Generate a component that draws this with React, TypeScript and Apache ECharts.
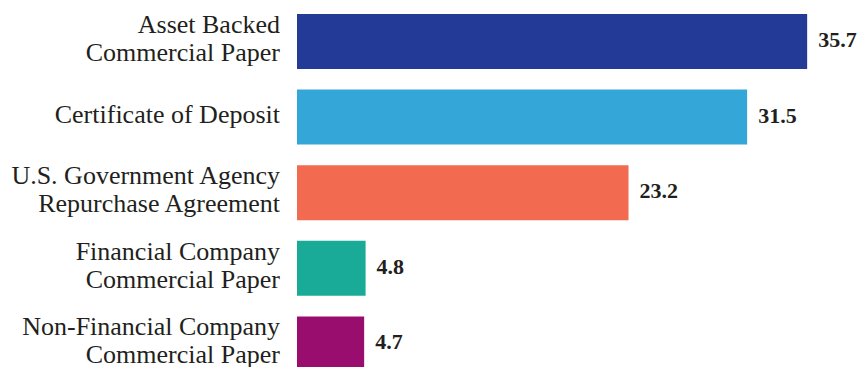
import React, { useEffect, useRef } from "react";
import * as echarts from "echarts";

const categories = [
  "Asset Backed\nCommercial Paper",
  "Certificate of Deposit",
  "U.S. Government Agency\nRepurchase Agreement",
  "Financial Company\nCommercial Paper",
  "Non-Financial Company\nCommercial Paper",
];
const values = [35.7, 31.5, 23.2, 4.8, 4.7];
const colors = ["#233a96", "#34a6d8", "#f26b51", "#19ab98", "#990d6f"];

export default function App() {
  const ref = useRef<HTMLDivElement>(null);
  useEffect(() => {
    if (!ref.current) return;
    const chart = echarts.init(ref.current, null, { renderer: "svg" });
    const textColor = "#231f20";
    chart.setOption({
      animation: false,
      backgroundColor: "#ffffff",
      grid: {
        left: 297,
        top: 3.7,
        width: 38 * 14.29,
        height: 378,
        containLabel: false,
        outerBoundsMode: "none",
      },
      xAxis: {
        type: "value",
        min: 0,
        max: 38,
        show: false,
        splitLine: { show: false },
      },
      yAxis: {
        type: "category",
        inverse: true,
        data: categories,
        axisLine: { show: false },
        axisTick: { show: false },
        axisLabel: {
          margin: 17,
          align: "right",
          formatter: (v: string) =>
            v
              .split("\n")
              .map((l) => `{t|${l}}`)
              .join("\n") + "\n{s| }",
          rich: {
            t: {
              color: textColor,
              fontFamily: "Liberation Serif",
              fontSize: 26,
              lineHeight: 28,
              align: "right",
            },
            s: { fontSize: 1, lineHeight: 6 },
          },
        },
      },
      series: [
        {
          type: "bar",
          barWidth: 55,
          data: values.map((v, i) => ({ value: v, itemStyle: { color: colors[i] } })),
          label: {
            show: true,
            position: "right",
            distance: 11,
            formatter: (p: any) => `{v|${p.value.toFixed(1)}}\n{s| }`,
            rich: {
              v: {
                color: textColor,
                fontFamily: "Liberation Serif",
                fontWeight: "bold",
                fontSize: 22,
                lineHeight: 24,
              },
              s: { fontSize: 1, lineHeight: 4 },
            },
          },
        },
      ],
    });
    return () => chart.dispose();
  }, []);
  return (
    <div
      ref={ref}
      style={{ position: "fixed", left: 0, top: 0, width: 862, height: 367 }}
    />
  );
}
